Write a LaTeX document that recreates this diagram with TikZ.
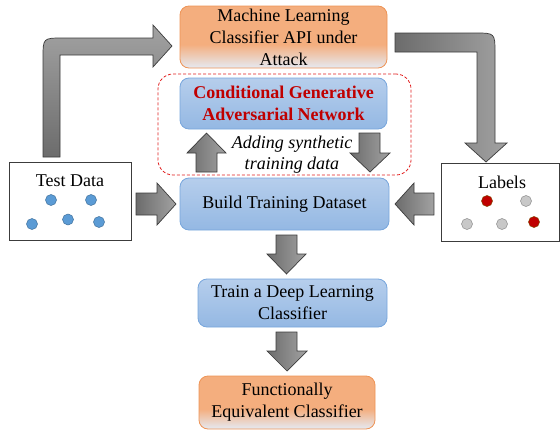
\documentclass[tikz,border=0pt]{standalone}
\usepackage{fontspec}
\setmainfont{Liberation Serif}
\newfontfamily\tnrfont{Liberation Serif}
\definecolor{blueT}{RGB}{182,206,236}
\definecolor{blueB}{RGB}{148,184,227}
\definecolor{blueD}{RGB}{120,166,220}
\definecolor{orgA}{RGB}{244,174,126}
\definecolor{orgL}{RGB}{229,234,243}
\definecolor{orgD}{RGB}{238,148,86}
\definecolor{arrD}{RGB}{108,108,108}
\definecolor{arrL}{RGB}{162,162,162}
\definecolor{arrE}{RGB}{60,60,60}
\definecolor{dotB}{RGB}{91,155,213}
\definecolor{dotBD}{RGB}{65,113,156}
\definecolor{dotR}{RGB}{192,0,0}
\definecolor{dotRD}{RGB}{130,70,0}
\definecolor{dotG}{RGB}{200,200,200}
\definecolor{dotGD}{RGB}{140,140,140}
\definecolor{ganred}{RGB}{192,0,0}
\definecolor{dashred}{RGB}{225,30,30}
\pgfdeclareverticalshading{orgfade}{100bp}{color(0bp)=(orgL); color(25bp)=(orgL); color(44bp)=(orgA); color(75bp)=(orgA); color(100bp)=(orgA)}
\begin{document}
\begin{tikzpicture}[x=1pt,y=-1pt,
  every node/.style={font=\tnrfont\fontsize{18}{22}\selectfont, inner sep=0pt},
  bluebox/.style={draw=blueD, line width=0.8pt, rounded corners=9pt, top color=blueT, bottom color=blueB, align=center},
  orgbox/.style={draw=orgD, line width=0.8pt, rounded corners=9pt, shading=orgfade, align=center},
  whitebox/.style={draw=arrE, line width=0.9pt, fill=white},
  blockarr/.style={draw=arrE, line width=0.7pt, left color=arrD, right color=arrL},
  dotb/.style={fill=dotB, draw=dotBD, line width=0.5pt},
  dotr/.style={fill=dotR, draw=dotRD, line width=0.5pt},
  dotg/.style={fill=dotG, draw=dotGD, line width=0.5pt}]
\useasboundingbox (0,0) rectangle (560,434);

% boxes
\node[orgbox, minimum width=207pt, minimum height=62pt] (ml) at (283.5,37) {Machine Learning\\Classifier API under\\Attack};
\node[draw=dashred, dash pattern=on 3pt off 2pt, line width=0.8pt, rounded corners=15pt, minimum width=253pt, minimum height=101pt] (gen) at (284.5,124.5) {};
\node[bluebox, minimum width=207pt, minimum height=51pt, text=ganred, font=\tnrfont\fontsize{18}{22}\selectfont\bfseries] (cgan) at (283.5,103.5) {Conditional Generative\\Adversarial Network};
\node[align=center, font=\tnrfont\fontsize{18}{21}\selectfont\itshape] (synth) at (292,155) {Adding synthetic\\training data};
\node[bluebox, minimum width=209pt, minimum height=52pt] (build) at (284.5,204) {Build Training Dataset};
\node[bluebox, minimum width=189pt, minimum height=48pt] (train) at (292.5,303) {Train a Deep Learning\\Classifier};
\node[orgbox, minimum width=176pt, minimum height=53pt] (fec) at (287,402.5) {Functionally\\Equivalent Classifier};
\node[whitebox, minimum width=122pt, minimum height=78pt] (test) at (70,201) {};
\node[whitebox, minimum width=118pt, minimum height=78pt] (labels) at (500,202) {};
\node (testt) at (70,181) {Test Data};
\node (labelst) at (502,182) {Labels};

% dots
\path[dotb] (51,200) circle (5.5) (91,200) circle (5.5) (32,224) circle (5.5) (68,219.5) circle (5.5) (99,222) circle (5.5);
\path[dotr] (487,201) circle (5.5) (534,222) circle (5.5);
\path[dotg] (526,201) circle (5.5) (467,224) circle (5.5) (502,224) circle (5.5);

% bent arrow: test data -> ML API
\path[draw=arrE, line width=0.7pt, top color=arrL, bottom color=arrD]
  (43,157) -- (43,58) .. controls (43,38) .. (63,38) -- (153,38) -- (153,25) -- (172,46)
  -- (153,67) -- (153,55) -- (60,55) -- (60,157) -- cycle;
% bent arrow: ML API -> labels
\path[blockarr]
  (395,33) -- (475,33) .. controls (495,33) .. (495,53) -- (495,143) -- (507,143) -- (486,162)
  -- (465,143) -- (477,143) -- (477,52) -- (395,52) -- cycle;

% up arrow: build -> cgan
\path[blockarr] (196,172) -- (196,153) -- (187,153) -- (206.5,133) -- (226,153) -- (217,153) -- (217,172) -- cycle;
% down arrow: cgan -> build
\path[blockarr] (359,133) -- (380,133) -- (380,153) -- (390,153) -- (370,172) -- (350,153) -- (359,153) -- cycle;

% test -> build
\path[blockarr] (136,193) -- (157,193) -- (157,183) -- (176,204) -- (157,225) -- (157,215) -- (136,215) -- cycle;
% labels -> build
\path[blockarr] (434,193) -- (414,193) -- (414,183) -- (395,204) -- (414,225) -- (414,215) -- (434,215) -- cycle;

% build -> train
\path[blockarr] (276,235) -- (297,235) -- (297,254) -- (306,254) -- (286.5,274) -- (267,254) -- (276,254) -- cycle;
% train -> fec
\path[blockarr] (276,332) -- (297,332) -- (297,351) -- (307,351) -- (287,371) -- (267,351) -- (276,351) -- cycle;
\end{tikzpicture}
\end{document}
